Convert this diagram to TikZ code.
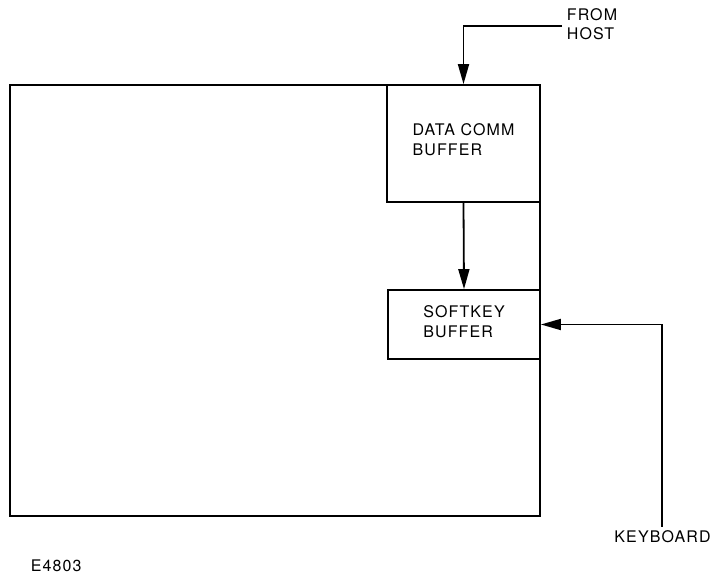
\documentclass[tikz,border=0pt]{standalone}
\usepackage{fontspec}
\setmainfont{TeX Gyre Heros}[LetterSpace=7]
\usetikzlibrary{arrows.meta}
\begin{document}
\begin{tikzpicture}[x=1pt,y=-1pt,
  line width=1.8pt,
  box/.style={draw, rectangle, inner sep=0pt},
  lbl/.style={font=\fontsize{16}{19.5}\selectfont, align=left, inner sep=0pt},
  conn/.style={-{Triangle[length=20pt,width=11pt]}, line join=miter}]
\useasboundingbox (0,0) rectangle (713,577);
% outer frame
\node[box, minimum width=530pt, minimum height=431pt] (frame) at (275,300.5) {};
% buffers
\node[box, minimum width=153pt, minimum height=117pt] (dc) at (463.5,143.5) {};
\node[lbl] (dct) at ([yshift=4pt]dc.center) {DATA COMM\\BUFFER};
\node[box, minimum width=152pt, minimum height=69pt] (sk) at (464,324.5) {};
\node[lbl] (skt) at ([yshift=3pt]sk.center) {SOFTKEY\\BUFFER};
% external labels
\node[lbl, anchor=base west] (host) at (566,40) {FROM\\HOST};
\node[lbl, anchor=base] (kb) at (662.5,542) {KEYBOARD};
\node[lbl, anchor=base west] (fig) at (30,572) {E4803};
% connectors
\coordinate (hostend) at (562,26);
\coordinate (kbend) at (662,527);
\draw[conn] (hostend) -| (dc.north);
\draw[conn] (dc.south) -- (sk.north);
\draw[conn] (kbend) |- (sk.east);
\end{tikzpicture}
\end{document}
